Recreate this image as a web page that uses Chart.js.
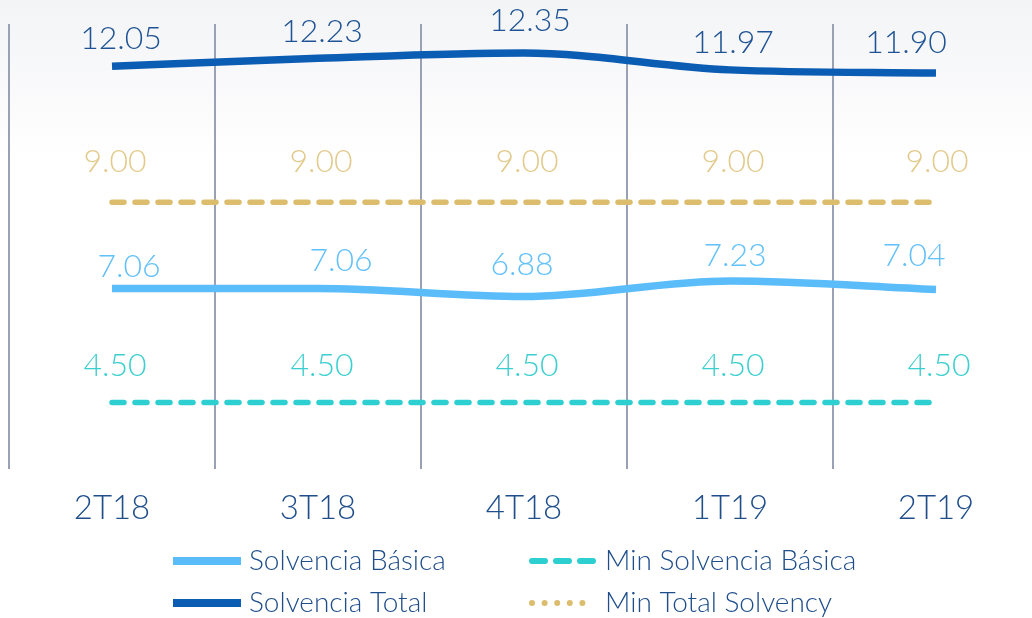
<!DOCTYPE html>
<html>
<head>
<meta charset="utf-8">
<script src="https://cdn.jsdelivr.net/npm/chart.js@4"></script>
<style>
  html, body { margin: 0; padding: 0; overflow: hidden; width: 1032px; height: 618px; }
  body { background: linear-gradient(to bottom, #f3f4f6 0px, #fbfbfc 110px, #ffffff 160px); }
  #wrap { position: absolute; left: 0; top: 0; width: 1050px; height: 618px; }
</style>
</head>
<body>
<div id="wrap"><canvas id="solvencyChart" width="1050" height="618"></canvas></div>
<script>
// --- Data ---
const categories = ['2T18', '3T18', '4T18', '1T19', '2T19'];
const solvenciaBasica = [7.06, 7.06, 6.88, 7.23, 7.04];
const minSolvenciaBasica = [4.50, 4.50, 4.50, 4.50, 4.50];
const solvenciaTotal = [12.05, 12.23, 12.35, 11.97, 11.90];
const minTotalSolvency = [9.00, 9.00, 9.00, 9.00, 9.00];

const FONT = "'Lato', 'Open Sans', sans-serif";
const TEXT_NAVY = '#1f4e8a';

// value labels above each point, nudged per dataset the way the original sits
const valueLabels = {
    id: 'valueLabels',
    afterDatasetsDraw(chart, args, opts) {
        const ctx = chart.ctx;
        ctx.save();
        ctx.font = '300 32px ' + FONT;
        ctx.textAlign = 'center';
        ctx.textBaseline = 'middle';
        chart.data.datasets.forEach((ds, di) => {
            const meta = chart.getDatasetMeta(di);
            const nudge = opts.nudges[di];
            ctx.fillStyle = ds.labelColor;
            meta.data.forEach((pt, i) => {
                ctx.fillText(ds.data[i].toFixed(2), pt.x + nudge.dx[i], pt.y - nudge.dy[i]);
            });
        });
        ctx.restore();
    }
};

// two-column legend under the axis
const gridLegend = {
    id: 'gridLegend',
    afterDraw(chart, args, opts) {
        const ctx = chart.ctx;
        ctx.save();
        chart.data.datasets.forEach((ds, i) => {
            const x = opts.cols[i % 2];
            const y = opts.rows[Math.floor(i / 2)];
            ctx.strokeStyle = ds.borderColor;
            ctx.beginPath();
            if (ds.legendStyle === 'solid') {
                ctx.lineWidth = 8;
                ctx.lineCap = 'butt';
                ctx.setLineDash([]);
                ctx.moveTo(x, y);
                ctx.lineTo(x + 68, y);
            } else if (ds.legendStyle === 'dash') {
                ctx.lineWidth = 6;
                ctx.lineCap = 'round';
                ctx.setLineDash([13, 11]);
                ctx.moveTo(x + 3, y);
                ctx.lineTo(x + 64, y);
            } else {
                ctx.lineWidth = 6;
                ctx.lineCap = 'round';
                ctx.setLineDash([0, 12.6]);
                ctx.moveTo(x + 3, y);
                ctx.lineTo(x + 66, y);
            }
            ctx.stroke();
            ctx.setLineDash([]);
            ctx.fillStyle = TEXT_NAVY;
            ctx.font = '300 28px ' + FONT;
            ctx.textAlign = 'left';
            ctx.textBaseline = 'middle';
            ctx.fillText(ds.label, x + 76, y);
        });
        ctx.restore();
    }
};

const ctx = document.getElementById('solvencyChart');
new Chart(ctx, {
    type: 'line',
    data: {
        labels: categories,
        datasets: [{
            label: 'Solvencia Básica',
            data: solvenciaBasica,
            borderColor: '#5bbcfa',
            labelColor: '#62c0fa',
            borderWidth: 7.5,
            borderCapStyle: 'butt',
            cubicInterpolationMode: 'monotone',
            legendStyle: 'solid'
        }, {
            label: 'Min Solvencia Básica',
            data: minSolvenciaBasica,
            borderColor: '#2ecfd1',
            labelColor: '#3ccfd0',
            borderWidth: 5.5,
            borderDash: [12, 11],
            borderCapStyle: 'round',
            legendStyle: 'dash'
        }, {
            label: 'Solvencia Total',
            data: solvenciaTotal,
            borderColor: '#0b5cb3',
            labelColor: '#1f5394',
            borderWidth: 7.5,
            borderCapStyle: 'butt',
            cubicInterpolationMode: 'monotone',
            legendStyle: 'solid'
        }, {
            label: 'Min Total Solvency',
            data: minTotalSolvency,
            borderColor: '#dbbd6d',
            labelColor: '#e2ca8c',
            borderWidth: 5.5,
            borderDash: [12, 11],
            borderCapStyle: 'round',
            legendStyle: 'dot'
        }]
    },
    options: {
        responsive: false,
        animation: false,
        layout: {
            padding: { left: 9, right: 11, top: 24, bottom: 71 }
        },
        elements: {
            point: { radius: 0, hoverRadius: 0 }
        },
        scales: {
            x: {
                offset: true,
                grid: {
                    offset: true,
                    color: '#9aa1b5',
                    lineWidth: 2,
                    drawTicks: false
                },
                border: { display: false },
                ticks: {
                    color: TEXT_NAVY,
                    padding: 19,
                    font: { family: FONT, size: 33, weight: '300' }
                }
            },
            y: {
                display: false,
                min: 3,
                max: 13
            }
        },
        plugins: {
            legend: { display: false },
            tooltip: { enabled: false },
            valueLabels: {
                nudges: [
                    { dx: [17, 23, -2, 5, -22], dy: [22, 28, 32, 25, 34] },
                    { dx: [3, 4, 3, 3, 3], dy: [37, 37, 37, 37, 37] },
                    { dx: [9, 4, 6, 3, -30], dy: [28, 27, 32, 27, 30] },
                    { dx: [3, 3, 3, 3, 1], dy: [40, 40, 40, 40, 40] }
                ]
            },
            gridLegend: {
                cols: [173, 529],
                rows: [561, 603]
            }
        }
    },
    plugins: [valueLabels, gridLegend]
});
</script>
</body>
</html>
